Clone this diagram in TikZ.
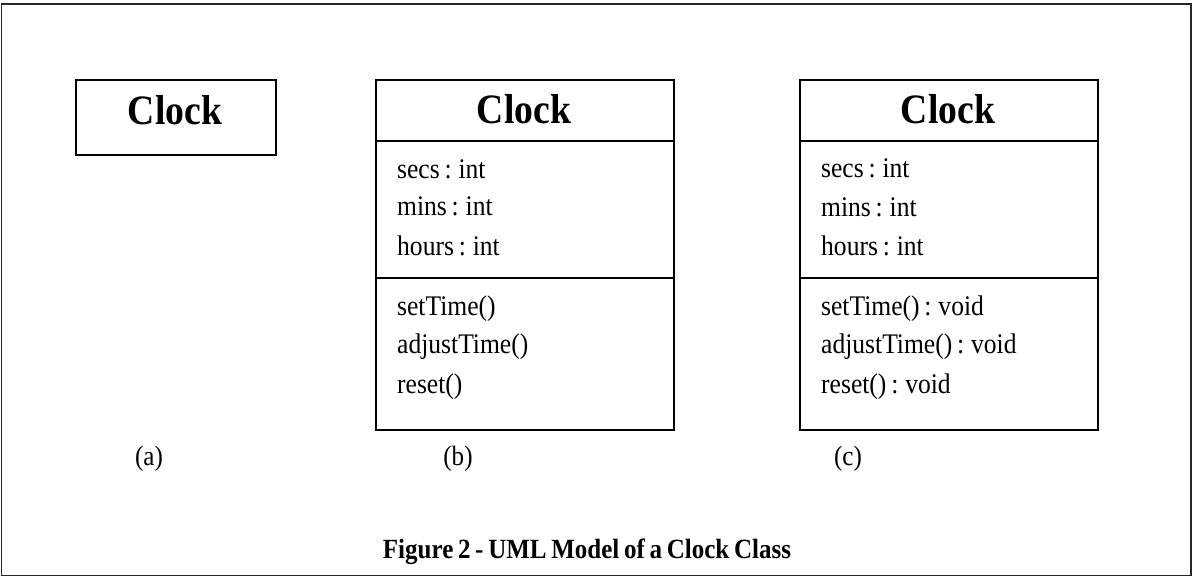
\documentclass[tikz,border=0pt]{standalone}
\usepackage{fontspec}
\setmainfont{Liberation Serif}[FakeStretch=0.9, WordSpace=0.75]
\begin{document}
\begin{tikzpicture}[x=1bp,y=-1bp,
  frame/.style={draw=black!85, line width=1.4bp},
  classbox/.style={draw=black, line width=1.8bp, inner sep=0pt, anchor=north west},
  divider/.style={draw=black, line width=1.8bp},
  classname/.style={anchor=base, inner sep=0pt, font=\fontsize{42}{42}\selectfont\bfseries},
  member/.style={anchor=base west, inner sep=0pt, font=\fontsize{28.5}{28.5}\selectfont},
  tag/.style={anchor=base, inner sep=0pt, font=\fontsize{28}{28}\selectfont},
  caption/.style={anchor=base, inner sep=0pt, font=\fontsize{27.9}{27.9}\selectfont\bfseries}]
\useasboundingbox (0,0) rectangle (1193,577);
\path[frame] (1.5,4) rectangle (1191,575.5);

% (a) class name only
\node[classbox, minimum width=200bp, minimum height=75bp] (boxA) at (75,79) {};
\node[classname] (nameA) at (175,125) {Clock};

% (b) name, attributes, operations
\node[classbox, minimum width=298bp, minimum height=350bp] (boxB) at (375,79) {};
\coordinate (bL1) at (375,141); \coordinate (bR1) at (673,141);
\coordinate (bL2) at (375,278); \coordinate (bR2) at (673,278);
\draw[divider] (bL1) -- (bR1);
\draw[divider] (bL2) -- (bR2);
\node[classname] (nameB) at (524,124) {Clock};
\node[member] (b1) at (397,179) {secs : int};
\node[member] (b2) at (397,216) {mins : int};
\node[member] (b3) at (397,256) {hours : int};
\node[member] (b4) at (397,316) {setTime()};
\node[member] (b5) at (397,354) {adjustTime()};
\node[member] (b6) at (397,393) {reset()};

% (c) operations with return types
\node[classbox, minimum width=298bp, minimum height=350bp] (boxC) at (799,79) {};
\coordinate (cL1) at (799,141); \coordinate (cR1) at (1097,141);
\coordinate (cL2) at (799,278); \coordinate (cR2) at (1097,278);
\draw[divider] (cL1) -- (cR1);
\draw[divider] (cL2) -- (cR2);
\node[classname] (nameC) at (948,124) {Clock};
\node[member] (c1) at (821,178) {secs : int};
\node[member] (c2) at (821,217) {mins : int};
\node[member] (c3) at (821,256) {hours : int};
\node[member] (c4) at (821,316) {setTime() : void};
\node[member] (c5) at (821,354) {adjustTime() : void};
\node[member] (c6) at (821,393) {reset() : void};

% sub-figure tags
\node[tag] (tagA) at (149,465) {(a)};
\node[tag] (tagB) at (458,465) {(b)};
\node[tag] (tagC) at (848,465) {(c)};

\node[caption] (cap) at (587,558) {Figure 2 - UML Model of a Clock Class};
\end{tikzpicture}
\end{document}
